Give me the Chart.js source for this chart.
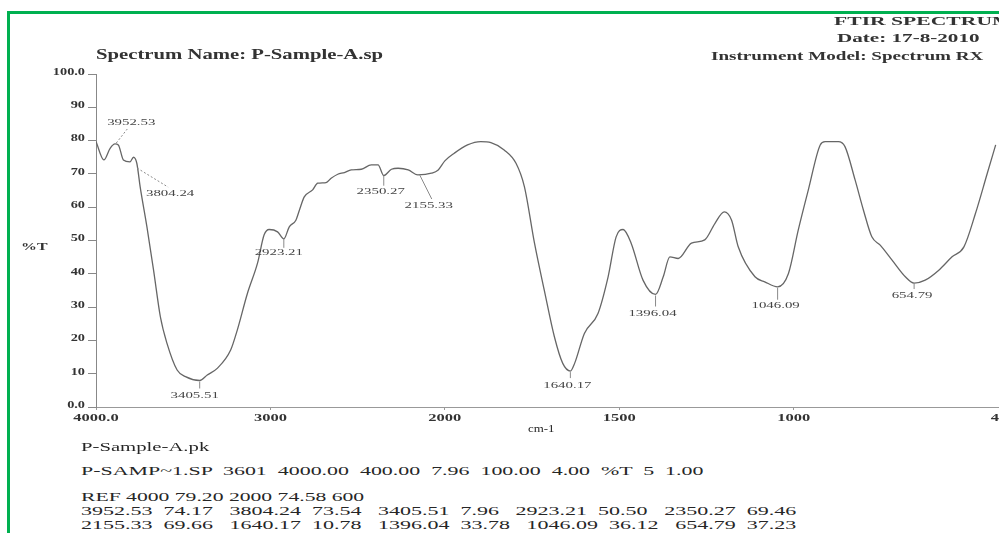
<!DOCTYPE html>
<html>
<head>
<meta charset="utf-8">
<title>FTIR Spectrum - P-Sample-A</title>
<script src="https://cdn.jsdelivr.net/npm/chart.js@4.4.1/dist/chart.umd.min.js"></script>
<style>
	html, body { margin: 0; padding: 0; width: 999px; height: 533px; overflow: hidden; background: #fff; }
	.frame { position: absolute; left: 7px; top: 11px; width: 1010px; height: 540px; border-left: 3px solid #00b050; border-top: 3px solid #00b050; }
	.wrap { position: absolute; left: 0; top: 0; width: 1020px; height: 440px; }
	.txt { position: absolute; white-space: pre; font-family: "Liberation Serif", serif; color: #262626; transform-origin: 0 50%; line-height: 1; }
	.b { font-weight: bold; color: #333; }
</style>
</head>
<body>
<div class="frame"></div>
<div class="wrap"><canvas id="ftir"></canvas></div>

<div class="txt b" data-x="834" data-y="20" data-w="178" style="font-size:13px">FTIR SPECTRUM</div>
<div class="txt b" data-x="837" data-y="37" data-w="143" style="font-size:13px">Date: 17-8-2010</div>
<div class="txt b" data-x="711" data-y="55" data-w="272" style="font-size:13px">Instrument Model: Spectrum RX</div>
<div class="txt b" data-x="96" data-y="55" data-w="287" style="font-size:14px">Spectrum Name: P-Sample-A.sp</div>
<div class="txt b" data-x="21" data-y="246" data-w="26" style="font-size:11px">%T</div>
<div class="txt" data-x="528" data-y="428" data-w="27" style="font-size:11px">cm-1</div>
<div class="txt" data-x="81" data-y="446" data-w="129" style="font-size:13px">P-Sample-A.pk</div>
<div class="txt" data-x="81" data-y="470" data-w="622" style="font-size:13px">P-SAMP~1.SP  3601  4000.00  400.00  7.96  100.00  4.00  %T  5  1.00</div>
<div class="txt" data-x="81" data-y="496" data-w="283" style="font-size:13px">REF 4000 79.20 2000 74.58 600</div>
<div class="txt peakrow" data-x="81" data-y="510" data-w="716" data-from="0" style="font-size:13px"></div>
<div class="txt peakrow" data-x="81" data-y="524" data-w="716" data-from="5" style="font-size:13px"></div>

<script>
// :: 1.0 Data
// :: 2.0 Split wavenumber scale (x2 expansion below 2000 cm-1)
// :: 3.0 Text plugin (ticks + peak labels)
// :: 4.0 Chart
// :: 5.0 Header / footer text

// :: 1.0 Data
var waveNumber = [
	4000, 3955, 3919, 3891, 3872, 3843, 3805, 3785, 3766, 3747,
	3708, 3670, 3631, 3593, 3535, 3487, 3405, 3362, 3305, 3228,
	3190, 3132, 3074, 3036, 3007, 2959, 2923, 2892, 2854, 2834,
	2806, 2758, 2729, 2681, 2652, 2614, 2576, 2537, 2479, 2422,
	2383, 2350, 2306, 2268, 2210, 2155, 2077, 2038, 2000, 1973,
	1935, 1897, 1868, 1830, 1796, 1772, 1743, 1715, 1686, 1662,
	1640, 1628, 1600, 1561, 1532, 1509, 1489, 1466, 1432, 1396,
	1374, 1355, 1331, 1293, 1255, 1226, 1199, 1178, 1159, 1111,
	1083, 1046, 1015, 987, 958, 924, 910, 872, 853, 824,
	800, 776, 752, 718, 680, 655, 623, 584, 546, 512,
	479, 445, 421
];
var transmittance = [
	79.7, 74.2, 77.7, 79.0, 78.7, 74.2, 73.6, 75.0, 73.2, 66.2,
	54.1, 41.1, 27.1, 19.1, 11.1, 9.1, 7.96, 9.6, 11.6, 17.1,
	23.1, 34.1, 43.2, 51.7, 53.3, 52.6, 50.5, 54.1, 56.1, 59.1,
	63.1, 65.2, 67.2, 67.4, 68.7, 69.9, 70.4, 71.2, 71.4, 72.7,
	72.7, 69.5, 71.4, 71.7, 71.2, 69.7, 70.2, 71.2, 73.9, 76.2,
	78.7, 79.7, 79.4, 77.2, 73.2, 66.2, 49.2, 35.1, 21.1, 13.1,
	10.8, 13.1, 22.1, 28.1, 39.1, 51.1, 53.3, 49.2, 38.1, 33.8,
	39.1, 45.1, 44.6, 49.2, 50.2, 55.1, 58.6, 56.1, 48.1, 39.1,
	37.6, 36.1, 40.1, 53.1, 65.2, 78.7, 79.7, 79.7, 78.2, 68.2,
	59.1, 51.1, 48.6, 44.1, 39.1, 37.2, 38.1, 41.1, 45.1, 48.1,
	58.1, 70.2, 78.7
];

var xTicks = [4000, 3000, 2000, 1500, 1000, 400];
var xTickLabels = ['4000.0', '3000', '2000', '1500', '1000', '400'];
var yTicks = [0, 10, 20, 30, 40, 50, 60, 70, 80, 90, 100];
var yTickLabels = ['0.0', '10', '20', '30', '40', '50', '60', '70', '80', '90', '100.0'];

var peakWave = [3952.53, 3804.24, 3405.51, 2923.21, 2350.27, 2155.33, 1640.17, 1396.04, 1046.09, 654.79];
var peakT = [74.17, 73.54, 7.96, 50.50, 69.46, 69.66, 10.78, 33.78, 36.12, 37.23];

// label placement relative to the peak point (px): label centre dx/dy, leader x1,y1,x2,y2
var peakStyle = [
	{ dx: 27, dy: -37, l: [12, -17, 23, -31], dash: true },
	{ dx: 40, dy: 32, l: [7, 6, 38, 25], dash: true },
	{ dx: -5, dy: 15, l: [0, 1, 0, 8] },
	{ dx: -5, dy: 14, l: [0, 0, 0, 9] },
	{ dx: -3, dy: 16, l: [0, 0, 0, 10] },
	{ dx: 11, dy: 31, l: [2, 0, 14, 24] },
	{ dx: -3, dy: 15, l: [0, 1, 0, 7] },
	{ dx: -3, dy: 19, l: [0, 1, 0, 12] },
	{ dx: -2, dy: 19, l: [0, 1, 0, 13] },
	{ dx: -2, dy: 13, l: [0, 0, 0, 6] }
];

(function () {
	'use strict';

	// :: 2.0 Split wavenumber scale
	var xBreak = 2000;
	var upperFactor = 0.5;

	class SplitWaveScale extends Chart.LinearScale {
		_span(v) {
			var lo = this.min;
			return v <= xBreak ? v - lo : (xBreak - lo) + (v - xBreak) * upperFactor;
		}
		getPixelForValue(value) {
			if (value === null || value === undefined) return NaN;
			return this.getPixelForDecimal(this._span(value) / this._span(this.max));
		}
		getValueForPixel(pixel) {
			var e = this.getDecimalForPixel(pixel) * this._span(this.max);
			var low = xBreak - this.min;
			return e <= low ? this.min + e : xBreak + (e - low) / upperFactor;
		}
	}
	SplitWaveScale.id = 'splitWave';
	SplitWaveScale.defaults = Chart.LinearScale.defaults;
	Chart.register(SplitWaveScale);

	// :: 3.0 Text plugin
	function stretchText(ctx, text, x, y, align, sx) {
		ctx.save();
		ctx.translate(x, y);
		ctx.scale(sx, 1);
		ctx.textAlign = align;
		ctx.textBaseline = 'middle';
		ctx.fillText(text, 0, 0);
		ctx.restore();
	}

	var textPlugin = {
		id: 'ftirText',
		afterDraw: function (chart) {
			var ctx = chart.ctx;
			var xs = chart.scales.x;
			var ys = chart.scales.y;

			ctx.save();
			ctx.fillStyle = '#333';
			ctx.font = 'bold 11px "Liberation Serif"';
			xTicks.forEach(function (v, i) {
				stretchText(ctx, xTickLabels[i], xs.getPixelForValue(v), 418, 'center', 1.5);
			});
			yTicks.forEach(function (v, i) {
				stretchText(ctx, yTickLabels[i], 85, ys.getPixelForValue(v) - 2, 'right', 1.3);
			});

			// peak picks
			ctx.font = '9px "Liberation Serif"';
			ctx.fillStyle = '#444';
			ctx.strokeStyle = '#8a8a8a';
			ctx.lineWidth = 1;
			peakWave.forEach(function (w, i) {
				var px = xs.getPixelForValue(w);
				var py = ys.getPixelForValue(peakT[i]);
				var st = peakStyle[i];
				ctx.setLineDash(st.dash ? [2, 2] : []);
				ctx.beginPath();
				ctx.moveTo(px + st.l[0], py + st.l[1]);
				ctx.lineTo(px + st.l[2], py + st.l[3]);
				ctx.stroke();
				stretchText(ctx, w.toFixed(2), px + st.dx, py + st.dy, 'center', 1.65);
			});
			ctx.restore();
		}
	};

	// :: 4.0 Chart
	var points = waveNumber.map(function (w, i) {
		return { x: w, y: transmittance[i] };
	});

	new Chart(document.getElementById('ftir'), {
		type: 'line',
		data: {
			datasets: [{
				data: points,
				borderColor: '#666',
				borderWidth: 1.3,
				pointRadius: 0,
				fill: false,
				cubicInterpolationMode: 'monotone'
			}]
		},
		options: {
			responsive: true,
			maintainAspectRatio: false,
			animation: false,
			layout: {
				padding: { top: 74, right: 17, left: 0, bottom: 0 }
			},
			plugins: {
				legend: { display: false },
				tooltip: { enabled: false }
			},
			scales: {
				x: {
					type: 'splitWave',
					reverse: true,
					min: 400,
					max: 4000,
					afterBuildTicks: function (scale) {
						scale.ticks = xTicks.map(function (v) { return { value: v }; });
					},
					afterFit: function (scale) { scale.height = 33; },
					ticks: { display: false },
					grid: { drawOnChartArea: false, tickLength: 3, color: '#999' },
					border: { color: '#999', width: 1 }
				},
				y: {
					min: 0,
					max: 100,
					afterBuildTicks: function (scale) {
						scale.ticks = yTicks.map(function (v) { return { value: v }; });
					},
					afterFit: function (scale) { scale.width = 96; },
					ticks: { display: false },
					grid: { drawOnChartArea: false, tickLength: 8, color: '#888' },
					border: { color: '#888', width: 1 }
				}
			}
		},
		plugins: [textPlugin]
	});

	// :: 5.0 Header / footer text
	document.querySelectorAll('.peakrow').forEach(function (row) {
		var from = +row.getAttribute('data-from');
		var parts = [];
		for (var i = from; i < from + 5; i++) {
			parts.push(peakWave[i].toFixed(2) + '  ' + peakT[i].toFixed(2));
		}
		row.textContent = parts.join('   ');
	});

	document.querySelectorAll('.txt').forEach(function (el) {
		var w = +el.getAttribute('data-w');
		el.style.left = el.getAttribute('data-x') + 'px';
		el.style.top = (+el.getAttribute('data-y') - el.offsetHeight / 2) + 'px';
		el.style.transform = 'scaleX(' + (w / el.offsetWidth) + ')';
	});
}());
</script>
</body>
</html>
